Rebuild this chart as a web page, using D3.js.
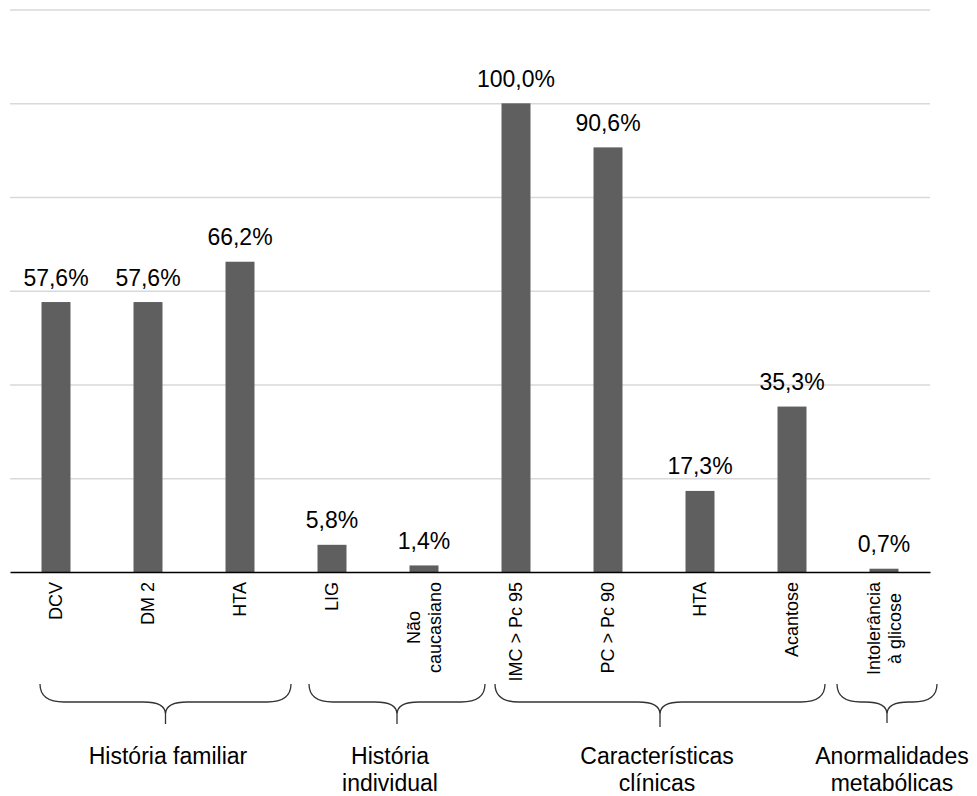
<!DOCTYPE html>
<html>
<head>
<meta charset="utf-8">
<script src="https://cdn.jsdelivr.net/npm/d3@7"></script>
<style>
  html, body { margin: 0; padding: 0; background: #fff; }
  svg { display: block; font-family: "Liberation Sans", Arial, sans-serif; }
</style>
</head>
<body>
<svg id="chart" width="977" height="796"></svg>
<script>
// ---- data ----
const categories = ["DCV", "DM 2", "HTA", "LIG", "Não\ncaucasiano", "IMC > Pc 95", "PC > Pc 90", "HTA", "Acantose", "Intolerância\nà glicose"];
const values = [57.6, 57.6, 66.2, 5.8, 1.4, 100.0, 90.6, 17.3, 35.3, 0.7];
const yTicks = [0, 20, 40, 60, 80, 100, 120];
const groupNames = ["História familiar", "História\nindividual", "Características\nclínicas", "Anormalidades\nmetabólicas"];
const groupFirst = [0, 3, 5, 9];
const groupLast = [2, 4, 8, 9];

// ---- layout ----
const W = 977, H = 796;
const left = 10, right = 930, axisY = 572, topY = 9.6;
const braceLeft = [40, 309, 495, 837];
const braceRight = [291, 485, 825, 937];
const braceTip = [165.5, 397, 660, 887];
const braceBottom = [724, 724, 727, 723];
const groupLabelX = [168, 390, 657, 892];

const svg = d3.select("#chart");

const x = d3.scaleBand()
  .domain(d3.range(categories.length))
  .range([left, right])
  .paddingInner(0.685)
  .paddingOuter(0.3425);

const y = d3.scaleLinear().domain([0, 120]).range([axisY, topY]);

// gridlines
const grid = svg.append("g")
  .attr("transform", `translate(${left},0)`)
  .call(d3.axisLeft(y).tickValues(yTicks.filter(t => t > 0)).tickSize(-(right - left)).tickFormat(""));
grid.select(".domain").remove();
grid.selectAll(".tick line").attr("stroke", "#d9d9d9").attr("stroke-width", 1.5);

// bars
svg.append("g").selectAll("rect")
  .data(values)
  .join("rect")
  .attr("x", (d, i) => x(i))
  .attr("width", x.bandwidth())
  .attr("y", d => y(d))
  .attr("height", d => y(0) - y(d))
  .attr("fill", "#5f5f5f");

// value labels
const loc = d3.formatLocale({ decimal: ",", thousands: ".", grouping: [3], currency: ["", ""] });
const fmt = loc.format(".1f");
svg.append("g").selectAll("text")
  .data(values)
  .join("text")
  .attr("x", (d, i) => x(i) + x.bandwidth() / 2)
  .attr("y", d => y(d) - 16.5)
  .attr("text-anchor", "middle")
  .attr("font-size", 23)
  .attr("fill", "#000")
  .text(d => fmt(d) + "%");

// x axis
const xAxis = svg.append("g")
  .attr("transform", `translate(0,${axisY})`)
  .call(d3.axisBottom(x).tickSize(0).tickSizeOuter(0).tickFormat(""));
xAxis.select(".domain").attr("stroke", "#000").attr("stroke-width", 1.6);

// category labels (rotated)
const labelTop = 582;
const catG = svg.append("g");
categories.forEach((c, i) => {
  const lines = c.split("\n");
  const cx = x(i) + x.bandwidth() / 2;
  const g = catG.append("g");
  const texts = lines.map((ln, j) => g.append("text")
    .attr("font-size", 18)
    .attr("fill", "#000")
    .text(ln));
  const maxLen = d3.max(texts, t => t.node().getComputedTextLength());
  const n = lines.length;
  texts.forEach((t, j) => {
    const off = 0.35 * 18 + (j - (n - 1) / 2) * 1.2 * 18;
    if (n === 1) {
      t.attr("text-anchor", "end")
       .attr("transform", `translate(${cx + off},${labelTop}) rotate(-90)`);
    } else {
      t.attr("text-anchor", "middle")
       .attr("transform", `translate(${cx + off},${labelTop + maxLen / 2}) rotate(-90)`);
    }
  });
});

// braces
const braceTop = 684, braceMid = 702;
function bracePath(x0, x1, xc, bottom) {
  const m = braceMid, t = braceTop;
  return `M${x0},${t} C${x0},${m - 8} ${x0 + 6},${m} ${x0 + 24},${m} L${xc - 22},${m} C${xc - 8},${m} ${xc},${m + 4} ${xc},${m + 12} L${xc},${bottom}` +
         ` M${x1},${t} C${x1},${m - 8} ${x1 - 6},${m} ${x1 - 24},${m} L${xc + 22},${m} C${xc + 8},${m} ${xc},${m + 4} ${xc},${m + 12}`;
}
svg.append("g").selectAll("path")
  .data(groupNames)
  .join("path")
  .attr("d", (d, i) => bracePath(braceLeft[i], braceRight[i], braceTip[i], braceBottom[i]))
  .attr("fill", "none")
  .attr("stroke", "#333")
  .attr("stroke-width", 1.3);

// group labels
const grpG = svg.append("g");
groupNames.forEach((gname, i) => {
  gname.split("\n").forEach((ln, j) => {
    grpG.append("text")
      .attr("x", groupLabelX[i])
      .attr("y", 763.5 + j * 27.5)
      .attr("text-anchor", "middle")
      .attr("font-size", 23)
      .attr("fill", "#000")
      .text(ln);
  });
});
</script>
</body>
</html>
